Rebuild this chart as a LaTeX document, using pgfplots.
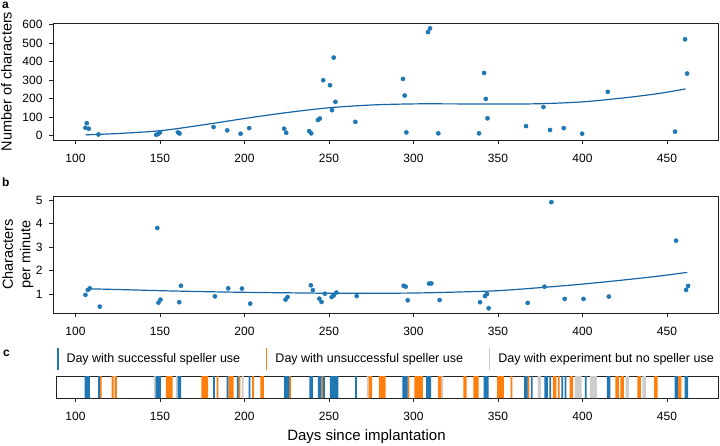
\documentclass[border=0pt]{standalone}
\usepackage{fontspec}
\setmainfont{Liberation Sans}
\usepackage{pgfplots}
\pgfplotsset{compat=1.18}
\definecolor{c1}{HTML}{1F77B4}
\definecolor{c2}{HTML}{FF7F0E}
\definecolor{c3}{HTML}{CDCDCD}
\definecolor{fitc}{HTML}{1565A6}
\definecolor{ax}{HTML}{222222}
\pgfplotsset{
  common/.style={
    scale only axis,
    axis line style={ax, line width=0.8pt},
    every tick/.style={ax, line width=0.8pt},
    tick align=outside, major tick length=4pt,
    xtick={100,150,...,450},
    xtick pos=left, ytick pos=left,
    /pgf/number format/assume math mode=true,
    ticklabel style={font=\fontsize{12}{14}\selectfont},
    xticklabel style={yshift=-6.5pt},
    yticklabel style={xshift=-3pt},
    label style={font=\fontsize{14.5}{17.5}\selectfont},
  },
  pts/.style={only marks, mark=*, mark size=2.1pt, mark options={fill=c1, draw=c1}},
  fit/.style={fitc, line width=1.2pt, smooth, no marks},
  stripe/.style={ybar, bar width=1.05, bar shift=0pt, draw=none, fill=#1},
}
\begin{document}
\begin{tikzpicture}
\useasboundingbox (0pt,0pt) rectangle (720pt,-446pt);
% panel a
\begin{axis}[common, at={(53pt,-23pt)}, anchor=north west, width=665pt, height=117pt,
  xmin=86.7, xmax=480.2,
  ymin=-23, ymax=609, ytick={0,100,...,600},
  ylabel={Number of characters},
  ylabel style={at={(axis description cs:-0.07,0.5)}, anchor=center}]
\addplot[pts] coordinates {(105.9,43) (106.7,68) (107.9,38) (113.6,7) (147.8,5) (149,10) (150,18) (160.6,18) (161.6,12) (181.7,47) (189.8,29) (197.7,11) (202.8,41) (223.5,38) (224.7,16) (238.3,25) (239.5,13) (243.5,85) (244.6,93) (246.6,300) (250.6,273) (251.8,138) (252.8,422) (253.8,183) (265.6,75) (293.8,307) (294.8,217) (295.8,18) (308.6,560) (309.8,580) (314.7,13) (338.8,13) (341.8,339) (342.8,199) (343.8,94) (366.6,52) (376.9,155) (380.8,31) (388.9,41) (399.8,11) (415,237) (454.8,22) (460.7,521) (461.9,336)};
\addplot[fit] coordinates {(106,5) (125,12) (150,27) (175,58) (200,93) (225,125) (250,151) (275,166) (300,172) (325,172) (350,171) (375,173) (400,183) (425,205) (445,228) (461,253)};
\end{axis}
% panel b
\begin{axis}[common, at={(53pt,-196pt)}, anchor=north west, width=665pt, height=117pt,
  xmin=86.7, xmax=480.2,
  ymin=0.19, ymax=5.17, ytick={1,2,3,4,5},
  ylabel={Characters\\per minute}, ylabel style={align=center, at={(axis description cs:-0.053,0.5)}, anchor=center}]
\addplot[pts] coordinates {(105.9,0.96) (107.3,1.17) (108.5,1.24) (114.4,0.46) (148.4,3.81) (149.1,0.63) (150.3,0.76) (161.4,0.65) (162.4,1.35) (182.5,0.9) (190.4,1.24) (198.5,1.23) (203.4,0.59) (224.3,0.76) (225.5,0.87) (239.3,1.37) (240.5,1.16) (244.3,0.8) (245.6,0.66) (247.6,1.01) (251.6,0.87) (252.8,0.94) (254.4,1.06) (266.4,0.91) (294.2,1.35) (295.4,1.31) (296.6,0.73) (309.2,1.44) (310.6,1.45) (315.5,0.74) (339.4,0.65) (342.3,0.91) (343.5,1.0) (344.5,0.39) (367.6,0.62) (377.5,1.31) (381.6,4.91) (389.5,0.79) (400.6,0.79) (415.6,0.89) (455.4,3.27) (461.3,1.17) (462.5,1.34)};
\addplot[fit] coordinates {(108,1.22) (130,1.18) (150,1.14) (175,1.10) (200,1.07) (225,1.05) (250,1.03) (275,1.03) (300,1.04) (325,1.08) (350,1.14) (375,1.27) (400,1.42) (425,1.6) (445,1.76) (462,1.92)};
\end{axis}
% panel c
\begin{axis}[common, at={(56pt,-376pt)}, anchor=north west, width=662pt, height=22pt,
  xmin=88.5, xmax=480.2,
  ymin=0, ymax=1, ytick=\empty,
  xlabel={Days since implantation},
  xlabel style={font=\fontsize{15}{18}\selectfont, at={(axis description cs:0.469,0)}, anchor=north, yshift=-28pt},
  legend columns=3,
  legend cell align=left,
  legend style={at={(axis description cs:0,1)}, anchor=south west, yshift=3pt, xshift=-2pt, draw=none, fill=none,
    font=\fontsize{12.5}{15}\selectfont,
    /tikz/every even column/.append style={column sep=24pt}}]
\addlegendimage{legend image code/.code={\draw[c1, line width=1.3pt] (1pt,-11pt) -- (1pt,11pt);}}
\addlegendentry{\hspace{6pt}Day with successful speller use}
\addlegendimage{legend image code/.code={\draw[c2, line width=1.3pt] (1pt,-11pt) -- (1pt,11pt);}}
\addlegendentry{\hspace{6pt}Day with unsuccessful speller use}
\addlegendimage{legend image code/.code={\draw[c3, line width=1.3pt] (1pt,-11pt) -- (1pt,11pt);}}
\addlegendentry{\hspace{6pt}Day with experiment but no speller use}
\addplot[stripe=c3, forget plot] coordinates {(123,1) (147,1) (160,1) (199,1) (273,1) (317,1) (374,1) (375,1) (396,1) (397,1) (398,1) (399,1) (405,1) (406,1) (407,1) (408,1) (426,1) (427,1) (436,1) (437,1)};
\addplot[stripe=c2, forget plot] coordinates {(115,1) (122,1) (124,1) (154,1) (155,1) (156,1) (157,1) (175,1) (176,1) (177,1) (178,1) (184,1) (191,1) (192,1) (193,1) (197,1) (205,1) (210,1) (211,1) (227,1) (246,1) (274,1) (275,1) (280,1) (281,1) (282,1) (283,1) (297,1) (301,1) (302,1) (303,1) (304,1) (305,1) (315,1) (316,1) (330,1) (331,1) (336,1) (337,1) (338,1) (350,1) (351,1) (352,1) (353,1) (358,1) (368,1) (383,1) (384,1) (386,1) (393,1) (394,1) (420,1) (421,1) (423,1) (424,1) (433,1) (434,1) (443,1) (444,1) (457,1) (458,1)};
\addplot[stripe=c1, forget plot] coordinates {(106,1) (107,1) (108,1) (114,1) (148,1) (149,1) (150,1) (161,1) (162,1) (182,1) (190,1) (196,1) (203,1) (224,1) (225,1) (226,1) (239,1) (240,1) (244,1) (245,1) (247,1) (251,1) (252,1) (253,1) (254,1) (255,1) (266,1) (294,1) (295,1) (296,1) (308,1) (309,1) (310,1) (342,1) (343,1) (344,1) (366,1) (367,1) (370,1) (378,1) (379,1) (381,1) (388,1) (390,1) (402,1) (415,1) (416,1) (455,1) (456,1) (461,1) (462,1)};
\end{axis}
\node[anchor=north west, inner sep=0pt, font=\bfseries\fontsize{12}{14}\selectfont] at (2pt,-1.5pt) {a};
\node[anchor=west, inner sep=0pt, font=\bfseries\fontsize{12}{14}\selectfont] at (2pt,-182pt) {b};
\node[anchor=west, inner sep=0pt, font=\bfseries\fontsize{12}{14}\selectfont] at (3pt,-353pt) {c};
\end{tikzpicture}
\end{document}
